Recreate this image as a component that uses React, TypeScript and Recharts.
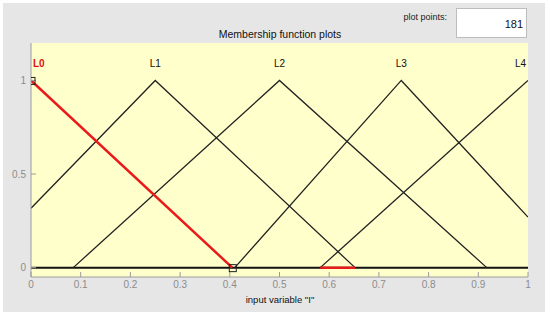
import React from "react";
import { ComposedChart, Line, Scatter, XAxis, YAxis, CartesianGrid } from "recharts";

// tick labels
const xTicks = [0, 0.1, 0.2, 0.3, 0.4, 0.5, 0.6, 0.7, 0.8, 0.9, 1];
const yTicks = [0, 0.5, 1];

// membership functions
const mfL0 = [{ x: 0, y: 1 }, { x: 0.405, y: 0 }];
const mfL1 = [{ x: 0, y: 0.317 }, { x: 0.25, y: 1 }, { x: 0.652, y: 0 }];
const mfL2 = [{ x: 0.085, y: 0 }, { x: 0.5, y: 1 }, { x: 0.917, y: 0 }];
const mfL3 = [{ x: 0.41, y: 0 }, { x: 0.745, y: 1 }, { x: 1, y: 0.27 }];
const mfL4 = [{ x: 0.582, y: 0 }, { x: 1, y: 1 }];
const baseline = [{ x: 0, y: 0 }, { x: 1, y: 0 }];
const redBase = [{ x: 0.582, y: 0 }, { x: 0.652, y: 0 }];
const handles = [{ x: 0, y: 1 }, { x: 0.405, y: 0 }];

// mf names above the peaks
const mfNames = ["L0", "L1", "L2", "L3", "L4"];
const mfPeaks = [0, 0.25, 0.5, 0.745, 1];
const labelY = 1.09;
const nameData = mfNames.map((name, i) => ({ x: mfPeaks[i], y: labelY, name }));

const FONT = "'Liberation Sans', Arial, sans-serif";
const TICK_COLOR = "#8c8c8c";
const FRAME = "#9c9c9c";

const fmt = (v: number) => String(Math.round(v * 10) / 10);

const NameShape = (props: any) => {
  const { cx, cy, payload, index } = props;
  const last = index === mfNames.length - 1;
  const first = index === 0;
  return (
    <text
      x={first ? cx + 2 : last ? cx - 2 : cx}
      y={cy}
      textAnchor={first ? "start" : last ? "end" : "middle"}
      dominantBaseline="central"
      fontSize={10}
      fontFamily={FONT}
      fontWeight={first ? "bold" : "normal"}
      fill={first ? "#e01010" : "#111"}
    >
      {payload.name}
    </text>
  );
};

const HandleShape = (props: any) => {
  const { cx, cy } = props;
  return <rect x={cx - 3} y={cy - 3} width={7} height={7} fill="none" stroke="#222" strokeWidth={1} />;
};

export default function App() {
  return (
    <div style={{ position: "absolute", left: 0, top: 0, width: 550, height: 325, background: "#fff", fontFamily: FONT }}>
      <div style={{ position: "absolute", left: 3, top: 3, width: 542, height: 309, background: "#e6e6e6" }} />

      <div style={{ position: "absolute", left: 380, top: 12, width: 67, textAlign: "right", fontSize: 9, color: "#222" }}>
        plot points:
      </div>
      <div
        style={{
          position: "absolute", left: 456, top: 8, width: 71, height: 30, background: "#fff",
          border: "1px solid #bdbdbd", boxSizing: "border-box", textAlign: "right", fontSize: 11,
          lineHeight: "30px", paddingRight: 3, color: "#111",
        }}
      >
        181
      </div>
      <div style={{ position: "absolute", left: 180, top: 28, width: 200, textAlign: "center", fontSize: 10.5, color: "#111" }}>
        Membership function plots
      </div>
      <div style={{ position: "absolute", left: 180, top: 294, width: 200, textAlign: "center", fontSize: 9.5, color: "#111" }}>
        input variable "I"
      </div>

      <div style={{ position: "absolute", left: 0, top: 0 }}>
        <ComposedChart width={550} height={325} margin={{ top: 43, right: 22, bottom: 0, left: 0 }}>
          <CartesianGrid fill="#ffffcc" fillOpacity={1} horizontal={false} vertical={false} />
          <XAxis
            type="number" dataKey="x" domain={[0, 1]} ticks={xTicks} height={48}
            tickFormatter={fmt} tickSize={-5} tickMargin={9}
            stroke={FRAME} tick={{ fill: TICK_COLOR, fontSize: 10, fontFamily: FONT }}
            allowDataOverflow
          />
          <XAxis
            xAxisId="top" orientation="top" type="number" dataKey="x" domain={[0, 1]} ticks={xTicks}
            height={0} tickSize={-5} tickFormatter={() => ""} stroke={FRAME} allowDataOverflow
          />
          <YAxis
            type="number" domain={[-0.05, 1.2]} ticks={yTicks} width={31}
            tickFormatter={fmt} tickSize={-5} tickMargin={10}
            stroke={FRAME} tick={{ fill: TICK_COLOR, fontSize: 10, fontFamily: FONT }}
            allowDataOverflow
          />
          <YAxis
            yAxisId="right" orientation="right" type="number" domain={[-0.05, 1.2]} ticks={yTicks}
            width={0} tickSize={-5} tickFormatter={() => ""} stroke={FRAME} allowDataOverflow
          />

          <Line data={baseline} dataKey="y" type="linear" stroke="#111" strokeWidth={2} dot={false} isAnimationActive={false} />
          <Line data={mfL1} dataKey="y" type="linear" stroke="#222" strokeWidth={1.3} dot={false} isAnimationActive={false} />
          <Line data={mfL2} dataKey="y" type="linear" stroke="#222" strokeWidth={1.3} dot={false} isAnimationActive={false} />
          <Line data={mfL3} dataKey="y" type="linear" stroke="#222" strokeWidth={1.3} dot={false} isAnimationActive={false} />
          <Line data={mfL4} dataKey="y" type="linear" stroke="#222" strokeWidth={1.3} dot={false} isAnimationActive={false} />
          <Line data={mfL0} dataKey="y" type="linear" stroke="#e81a1a" strokeWidth={2.5} dot={false} isAnimationActive={false} />
          <Line data={redBase} dataKey="y" type="linear" stroke="#e81a1a" strokeWidth={2.5} dot={false} isAnimationActive={false} />
          <Scatter data={handles} dataKey="y" shape={HandleShape} isAnimationActive={false} />
          <Scatter data={nameData} dataKey="y" shape={NameShape} isAnimationActive={false} />
        </ComposedChart>
      </div>
    </div>
  );
}
